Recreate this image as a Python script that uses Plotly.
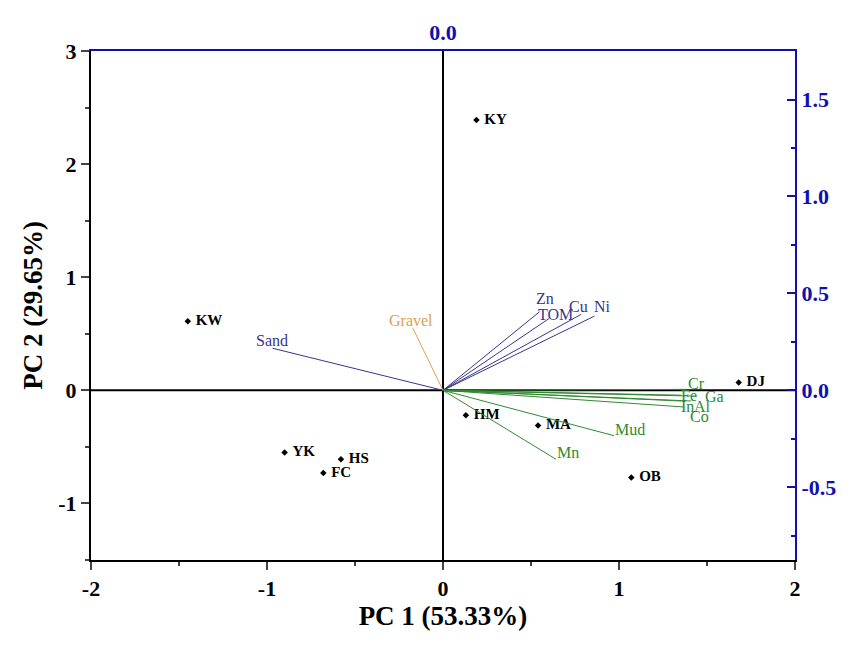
import plotly.graph_objects as go

# sample scores (PC1, PC2)
sites = ["KY", "KW", "DJ", "HM", "MA", "OB", "YK", "HS", "FC"]
pc1_scores = [0.19, -1.45, 1.68, 0.13, 0.54, 1.07, -0.90, -0.58, -0.68]
pc2_scores = [2.39, 0.61, 0.07, -0.22, -0.31, -0.77, -0.55, -0.61, -0.73]

# variable loadings (top / right axes)
variables = ["Sand", "Gravel", "Zn", "TOM", "Cu", "Ni",
             "Mud", "Mn", "Cr", "Fe", "Ga", "In", "Al", "Co"]
pc1_loadings = [-0.565, -0.100, 0.320, 0.353, 0.458, 0.502,
                0.567, 0.375, 0.806, 0.790, 0.840, 0.790, 0.823, 0.800]
pc2_loadings = [0.217, 0.321, 0.405, 0.372, 0.392, 0.383,
                -0.234, -0.356, 0.005, -0.025, -0.030, -0.055, -0.055, -0.086]
var_groups = ["blue", "orange", "blue", "blue", "blue", "blue",
              "green", "green", "green", "green", "green", "green", "green", "green"]

COLORS = {
    "blue": "#36368a",
    "orange": "#e0a050",
    "green": "#2f8a2f",
    "axis_blue": "#1010b0",
}

# label offsets from the vector tip, in pixels (dx right, dy up)
LABEL_SHIFT = {
    "Sand": (-1, 8), "Gravel": (-2, 8), "Zn": (5, 13), "TOM": (6, 4),
    "Cu": (-3, 8), "Ni": (8, 10), "Mud": (16, 6), "Mn": (12, 7),
    "Cr": (10, 6), "Fe": (8, 0), "Ga": (18, 0), "In": (6, -5),
    "Al": (11, -5), "Co": (15, -9),
}

FONT = "Liberation Serif, Times New Roman, serif"

fig = go.Figure()

# zero lines
fig.add_trace(go.Scatter(x=[-2, 2], y=[0, 0], mode="lines",
                         line=dict(color="black", width=2),
                         hoverinfo="skip", showlegend=False))
fig.add_trace(go.Scatter(x=[0, 0], y=[-1.5, 3], mode="lines",
                         line=dict(color="black", width=2),
                         hoverinfo="skip", showlegend=False))

# loading vectors
for name, lx, ly, grp in zip(variables, pc1_loadings, pc2_loadings, var_groups):
    c = COLORS[grp]
    fig.add_trace(go.Scatter(
        x=[0, lx], y=[0, ly],
        xaxis="x2", yaxis="y2",
        mode="lines",
        line=dict(color=c, width=1),
        showlegend=False,
        hoverinfo="skip",
    ))
    dx, dy = LABEL_SHIFT[name]
    fig.add_annotation(
        x=lx, y=ly, xref="x2", yref="y2",
        text=name, showarrow=False,
        xanchor="center", yanchor="middle",
        xshift=dx, yshift=dy,
        font=dict(family=FONT, size=16, color=c),
    )

# sample scores
fig.add_trace(go.Scatter(
    x=pc1_scores, y=pc2_scores,
    mode="markers+text",
    text=["<b>&nbsp;" + s + "</b>" for s in sites],
    textposition="middle right",
    textfont=dict(family=FONT, size=15, color="black"),
    marker=dict(symbol="diamond", size=5, color="black"),
    showlegend=False,
))

tickfont = dict(family=FONT, size=22, color="black")
bluefont = dict(family=FONT, size=22, color=COLORS["axis_blue"])

fig.update_layout(
    width=851, height=646,
    paper_bgcolor="white",
    plot_bgcolor="white",
    margin=dict(l=83, r=64, t=32, b=94),
    font=dict(family=FONT),
    xaxis=dict(
        range=[-2, 2], tickvals=[-2, -1, 0, 1, 2],
        ticktext=["<b>-2</b>", "<b>-1</b>", "<b>0</b>", "<b>1</b>", "<b>2</b>"],
        tickfont=tickfont, ticks="outside", ticklen=8, tickwidth=2,
        minor=dict(dtick=0.5, ticks="outside", ticklen=4, tickwidth=2, showgrid=False),
        showline=True, linecolor="black", linewidth=2,
        showgrid=False, zeroline=False,
        title=dict(text="<b>PC 1 (53.33%)</b>",
                   font=dict(family=FONT, size=27, color="black"), standoff=4),
    ),
    yaxis=dict(
        range=[-1.5, 3], tickvals=[-1, 0, 1, 2, 3],
        ticktext=["<b>-1</b>", "<b>0</b>", "<b>1</b>", "<b>2</b>", "<b>3</b>"],
        tickfont=tickfont, ticks="outside", ticklen=8, tickwidth=2,
        minor=dict(dtick=0.5, ticks="outside", ticklen=4, tickwidth=2, showgrid=False),
        showline=True, linecolor="black", linewidth=2,
        showgrid=False, zeroline=False,
        title=dict(text="<b>PC 2 (29.65%)</b>",
                   font=dict(family=FONT, size=27, color="black"), standoff=8),
    ),
    xaxis2=dict(
        overlaying="x", side="top", anchor="y",
        range=[-2 / 1.714, 2 / 1.714],
        tickvals=[0], ticktext=["<b>0.0</b>"],
        tickfont=bluefont,
        ticks="", showline=True, linecolor=COLORS["axis_blue"], linewidth=2,
        showgrid=False, zeroline=False,
    ),
    yaxis2=dict(
        overlaying="y", side="right", anchor="x",
        range=[-1.5 / 1.714, 3 / 1.714],
        tickvals=[-0.5, 0, 0.5, 1.0, 1.5],
        ticktext=["<b>-0.5</b>", "<b>0.0</b>", "<b>0.5</b>", "<b>1.0</b>", "<b>1.5</b>"],
        tickfont=bluefont,
        ticks="inside", ticklen=8, tickwidth=2, tickcolor=COLORS["axis_blue"],
        minor=dict(tickvals=[-0.75, -0.25, 0.25, 0.75, 1.25], ticks="inside",
                   ticklen=4, tickwidth=2, tickcolor=COLORS["axis_blue"], showgrid=False),
        showline=True, linecolor=COLORS["axis_blue"], linewidth=2,
        showgrid=False, zeroline=False,
    ),
)

fig.write_html("out.html")
